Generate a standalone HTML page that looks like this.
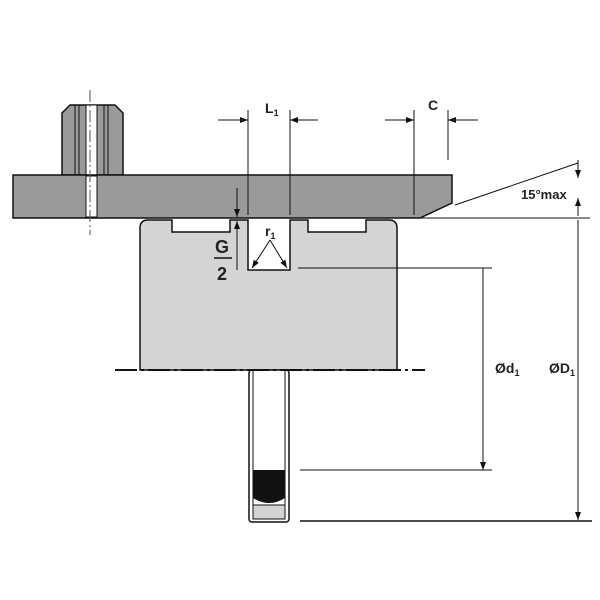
<!DOCTYPE html><html><head><style>body{margin:0;background:#fff}svg{display:block}text{font-family:"Liberation Sans",sans-serif;fill:#222;font-weight:600}</style></head><body>
<svg width="600" height="600" viewBox="0 0 600 600">
<defs><marker id="a" markerWidth="8" markerHeight="6" refX="8" refY="3" orient="auto" markerUnits="userSpaceOnUse"><path d="M0,0L8,3L0,6z" fill="#111"/></marker></defs>
<!-- nut -->
<path d="M62,113 L70,105 L115,105 L123,113 L123,175 L62,175Z" fill="#9a9a9a" stroke="#111" stroke-width="1.5"/>
<g stroke="#111" stroke-width="1"><line x1="75" y1="105" x2="75" y2="175"/><line x1="79" y1="105" x2="79" y2="175"/><line x1="104" y1="105" x2="104" y2="175"/><line x1="108" y1="105" x2="108" y2="175"/></g>
<rect x="86" y="105" width="11" height="70" fill="#fff" stroke="#111"/>
<!-- plate -->
<path d="M13,175 L452,175 L452,203 L420,218 L13,218 Z" fill="#9a9a9a" stroke="#111" stroke-width="1.5"/>
<rect x="86" y="176" width="11" height="41" fill="#fff" stroke="#111"/>
<line x1="90" y1="90" x2="90" y2="235" stroke="#555" stroke-dasharray="12,3,2,3"/>
<!-- piston -->
<path d="M140,370 L140,228 Q140,220 148,220 L172,220 L172,232 L230,232 L230,220 L248,220 L248,270 L290,270 L290,220 L308,220 L308,232 L366,232 L366,220 L389,220 Q397,220 397,228 L397,370 Z" fill="#d4d4d4" stroke="#111" stroke-width="1.5"/>
<!-- rod -->
<rect x="249" y="370" width="40" height="152" rx="3" fill="#fff" stroke="#111" stroke-width="1.5"/>
<line x1="253" y1="370" x2="253" y2="505" stroke="#111"/><line x1="285" y1="370" x2="285" y2="505" stroke="#111"/>
<path d="M253,470 L285,470 L285,498 Q269,508 253,498Z" fill="#111"/>
<rect x="253" y="505" width="32" height="14" fill="#d4d4d4" stroke="#111"/>
<line x1="115" y1="370" x2="425" y2="370" stroke="#111" stroke-width="2" stroke-dasharray="22,4,3,4"/>
<g stroke="#111" stroke-width="1">
<line x1="248" y1="110" x2="248" y2="215"/><line x1="290" y1="110" x2="290" y2="215"/>
<line x1="218" y1="120" x2="248" y2="120" marker-end="url(#a)"/><line x1="318" y1="120" x2="290" y2="120" marker-end="url(#a)"/>
<line x1="414" y1="110" x2="414" y2="215"/><line x1="448" y1="110" x2="448" y2="160"/>
<line x1="385" y1="120" x2="414" y2="120" marker-end="url(#a)"/><line x1="478" y1="120" x2="448" y2="120" marker-end="url(#a)"/>
<line x1="237" y1="188" x2="237" y2="217" marker-end="url(#a)"/><line x1="237" y1="270" x2="237" y2="221" marker-end="url(#a)"/>
<line x1="270" y1="240" x2="252" y2="268" marker-end="url(#a)"/><line x1="270" y1="240" x2="287" y2="268" marker-end="url(#a)"/>
<line x1="420" y1="218" x2="590" y2="218"/>
<line x1="455" y1="205" x2="578" y2="163"/>
<line x1="578" y1="160" x2="578" y2="178" marker-end="url(#a)"/>
<line x1="578" y1="216" x2="578" y2="198" marker-end="url(#a)"/>
<line x1="298" y1="268" x2="492" y2="268"/><line x1="300" y1="470" x2="492" y2="470"/>
<line x1="483" y1="268" x2="483" y2="470" marker-end="url(#a)"/>
<line x1="578" y1="220" x2="578" y2="520" marker-end="url(#a)"/>
<line x1="300" y1="521" x2="592" y2="521" stroke-width="1.5"/>
</g>
<text x="265" y="113" font-size="14">L<tspan font-size="9" dy="3">1</tspan></text>
<text x="428" y="110" font-size="14">C</text>
<text x="265" y="236" font-size="14">r<tspan font-size="9" dy="3">1</tspan></text>
<text x="215" y="253" font-size="18">G</text><line x1="214" y1="258" x2="232" y2="258" stroke="#111" stroke-width="1.5"/><text x="217" y="280" font-size="18">2</text>
<text x="521" y="199" font-size="13" font-weight="bold">15°max</text>
<text x="495" y="373" font-size="14">Ød<tspan font-size="9" dy="3">1</tspan></text>
<text x="549" y="373" font-size="14">ØD<tspan font-size="9" dy="3">1</tspan></text>
</svg></body></html>
